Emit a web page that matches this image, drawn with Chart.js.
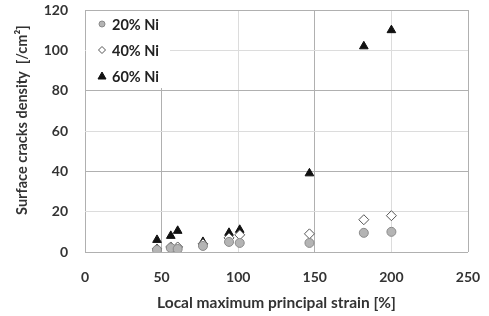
<!DOCTYPE html>
<html>
<head>
<meta charset="utf-8">
<script src="https://cdn.jsdelivr.net/npm/chart.js@4/dist/chart.umd.min.js"></script>
<style>
  html, body { margin: 0; padding: 0; background: #fff; }
  #wrap { width: 489px; height: 316px; }
</style>
</head>
<body>
<div id="wrap"><canvas id="chart" width="489" height="316"></canvas></div>
<script>
// strain values [%] (x) and crack density [/cm²] (y) for each alloy
const strain = [47, 56, 60.5, 77, 94, 101, 146.5, 182, 200];
const ni20 = [1, 2, 1.5, 3, 5, 4.5, 4.5, 9.5, 10];
const ni40 = [1.5, 2.5, 2.5, 4, 7, 8.5, 9, 16, 18];
const ni60 = [6, 8, 10.5, 5, 9.5, 11, 39, 102, 110];
const seriesNames = ["20% Ni", "40% Ni", "60% Ni"];
const xTicks = [0, 50, 100, 150, 200, 250];
const yTicks = [0, 20, 40, 60, 80, 100, 120];
const yTitle = "Surface cracks density  [/cm²]";
const xTitle = "Local maximum principal strain [%]";

const FONT = "Lato, 'Open Sans', sans-serif";

function toPoints(ys) {
  return strain.map((s, i) => ({ x: s, y: ys[i] }));
}

// legend inside the plot (top left, white box) + the y axis title
const extras = {
  id: "extras",
  afterDatasetsDraw(chart) {
    const ctx = chart.ctx;
    const area = chart.chartArea;
    ctx.save();
    ctx.fillStyle = "#fff";
    ctx.fillRect(area.left + 1, area.top + 1, 84, 77);
    chart.data.datasets.forEach((ds, i) => {
      const x = area.left + 17;
      const y = area.top + 14 + i * 26;
      ctx.beginPath();
      if (ds.pointStyle === "circle") {
        ctx.arc(x, y, 3, 0, Math.PI * 2);
      } else if (ds.pointStyle === "rectRot") {
        ctx.moveTo(x, y - 3.5); ctx.lineTo(x + 3.5, y);
        ctx.lineTo(x, y + 3.5); ctx.lineTo(x - 3.5, y); ctx.closePath();
      } else {
        ctx.moveTo(x, y - 4); ctx.lineTo(x + 4, y + 3);
        ctx.lineTo(x - 4, y + 3); ctx.closePath();
      }
      ctx.fillStyle = ds.pointBackgroundColor;
      ctx.fill();
      ctx.lineWidth = 1;
      ctx.strokeStyle = ds.pointBorderColor;
      ctx.stroke();
      ctx.fillStyle = "#222";
      ctx.font = "bold 14.5px " + FONT;
      ctx.textBaseline = "middle";
      ctx.fillText(ds.label, x + 10, y + 1);
    });

    ctx.translate(22, 120);
    ctx.rotate(-Math.PI / 2);
    ctx.fillStyle = "#333";
    ctx.font = "bold 14.5px " + FONT;
    ctx.textAlign = "center";
    ctx.textBaseline = "middle";
    ctx.fillText(yTitle, 0, 0);
    ctx.restore();
  }
};

new Chart(document.getElementById("chart"), {
  type: "scatter",
  data: {
    datasets: [
      {
        label: seriesNames[0], data: toPoints(ni20), pointStyle: "circle",
        pointRadius: 4.5, pointBackgroundColor: "#b4b4b4", pointBorderColor: "#8a8a8a", pointBorderWidth: 1
      },
      {
        label: seriesNames[1], data: toPoints(ni40), pointStyle: "rectRot",
        pointRadius: 5, pointBackgroundColor: "#ffffff", pointBorderColor: "#555", pointBorderWidth: 1
      },
      {
        label: seriesNames[2], data: toPoints(ni60), pointStyle: "triangle",
        pointRadius: 5, pointBackgroundColor: "#111", pointBorderColor: "#111", pointBorderWidth: 1
      }
    ]
  },
  options: {
    responsive: false,
    animation: false,
    layout: { autoPadding: false, padding: { left: 0, right: 21, top: 10, bottom: 0 } },
    plugins: { legend: { display: false }, tooltip: { enabled: false } },
    scales: {
      x: {
        type: "linear", min: 0, max: 250,
        afterBuildTicks: (s) => { s.ticks = xTicks.map(v => ({ value: v })); },
        afterFit: (s) => { s.height = 64; s.paddingLeft = 0; s.paddingRight = 0; },
        border: { display: false },
        grid: {
          drawTicks: false,
          color: (c) => (c.tick && (c.tick.value === 100 || c.tick.value === 200)) ? "#dcdcdc" : "#b0b0b0"
        },
        ticks: { padding: 17, color: "#333", font: { family: FONT, size: 14, weight: "bold" } },
        title: {
          display: true, text: xTitle, color: "#333",
          font: { family: FONT, size: 15.5, weight: "bold" }, padding: { top: 4, bottom: 4 }
        }
      },
      y: {
        min: 0, max: 120,
        afterBuildTicks: (s) => { s.ticks = yTicks.map(v => ({ value: v })); },
        afterFit: (s) => { s.width = 85; s.paddingTop = 0; s.paddingBottom = 0; },
        border: { display: false },
        grid: {
          drawTicks: false,
          color: (c) => (c.tick && c.tick.value % 40 === 0) ? "#b0b0b0" : "#dcdcdc"
        },
        ticks: { padding: 17, color: "#333", font: { family: FONT, size: 14, weight: "bold" } }
      }
    }
  },
  plugins: [extras]
});
</script>
</body>
</html>
